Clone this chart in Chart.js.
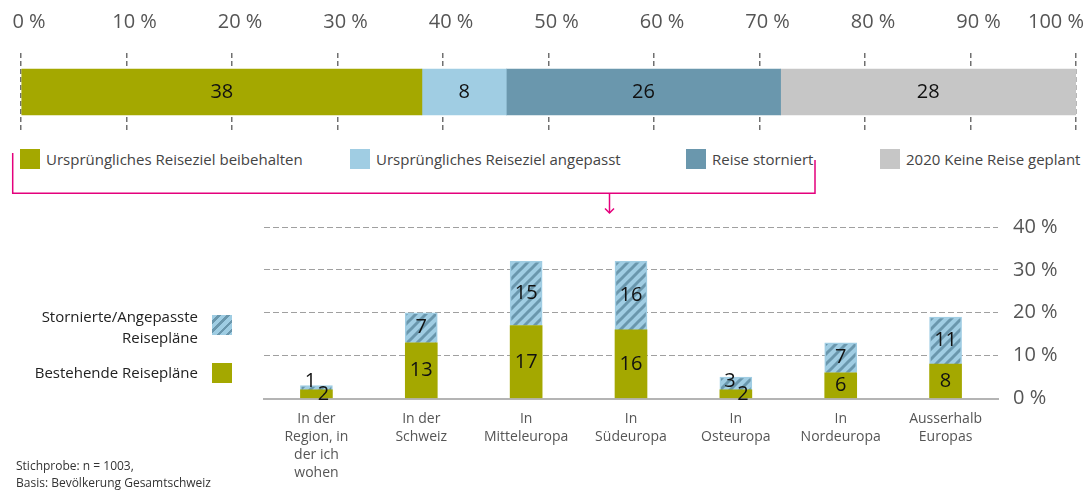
<!DOCTYPE html>
<html>
<head>
<meta charset="utf-8">
<script src="https://cdn.jsdelivr.net/npm/chart.js@4.4.0/dist/chart.umd.min.js"></script>
<style>
  body { margin: 0; width: 1085px; height: 491px; overflow: hidden; background: #fff; position: relative; font-family: 'Open Sans', sans-serif; }
  canvas { position: absolute; left: 0; }
  #topChart { top: 0; }
  #bottomChart { top: 200px; }
  .lg { position: absolute; font-size: 15px; line-height: 20px; color: #444; white-space: nowrap; }
  .sw { position: absolute; width: 20px; height: 20px; }
  .lg2 { position: absolute; font-size: 15px; line-height: 21px; color: #222; text-align: right; white-space: nowrap; }
  .note { position: absolute; left: 16px; top: 457px; font-size: 12px; line-height: 17px; color: #333; }
  svg { position: absolute; left: 0; top: 0; }
</style>
</head>
<body>
<canvas id="topChart" width="1085" height="140"></canvas>
<canvas id="bottomChart" width="1085" height="291"></canvas>

<div id="topLegend"></div>

<svg width="1085" height="230">
  <polyline points="12.7,153 12.7,193.3 815,193.3 815,160" fill="none" stroke="#e4007c" stroke-width="1.5"/>
  <line x1="609.5" y1="193.3" x2="609.5" y2="213" stroke="#e4007c" stroke-width="1.5"/>
  <polyline points="605,208.5 609.5,213 614,208.5" fill="none" stroke="#e4007c" stroke-width="1.5"/>
</svg>

<div class="lg2" style="right:887px; top:306px;">Stornierte/Angepasste<br>Reisepläne</div>
<div class="sw" style="left:212px; top:315px; background: repeating-linear-gradient(135deg, #9fcde3 0 4px, #6a97ad 4px 6.5px);"></div>
<div class="lg2" style="right:887px; top:362px;">Bestehende Reisepläne</div>
<div class="sw" style="left:212px; top:363px; background:#a4a800;"></div>

<div class="note">Stichprobe: n = 1003,<br>Basis: Bevölkerung Gesamtschweiz</div>

<script>
// oberer Balken
const topCategory = ['Reisen 2020'];
const topLabels = ['Ursprüngliches Reiseziel beibehalten', 'Ursprüngliches Reiseziel angepasst', 'Reise storniert', '2020 Keine Reise geplant'];
const topValues = [38, 8, 26, 28];
const topColors = ['#a4a800', '#a0cde3', '#6a97ad', '#c6c6c6'];
const topTicks = [0, 10, 20, 30, 40, 50, 60, 70, 80, 90, 100];

// unteres Diagramm
const regions = [
    ['In der', 'Region, in', 'der ich', 'wohen'],
    ['In der', 'Schweiz'],
    ['In', 'Mitteleuropa'],
    ['In', 'Südeuropa'],
    ['In', 'Osteuropa'],
    ['In', 'Nordeuropa'],
    ['Ausserhalb', 'Europas']
];
const bestehend = [2, 13, 17, 16, 2, 6, 8];
const storniert = [1, 7, 15, 16, 3, 7, 11];
const bottomTicks = [0, 10, 20, 30, 40];

const FONT = "'Open Sans', sans-serif";

// Legende oben
const legendX = [20, 350, 686, 880];
const legendBox = document.getElementById('topLegend');
topLabels.forEach((label, i) => {
    const sw = document.createElement('div');
    sw.className = 'sw';
    sw.style.left = legendX[i] + 'px';
    sw.style.top = '149px';
    sw.style.background = topColors[i];
    legendBox.appendChild(sw);
    const t = document.createElement('div');
    t.className = 'lg';
    t.style.left = (legendX[i] + 26) + 'px';
    t.style.top = '149px';
    t.textContent = label;
    legendBox.appendChild(t);
});

function makeHatch() {
    const c = document.createElement('canvas');
    c.width = 10; c.height = 10;
    const g = c.getContext('2d');
    g.fillStyle = '#a0cde3';
    g.fillRect(0, 0, 10, 10);
    g.strokeStyle = '#6a97ad';
    g.lineWidth = 3;
    [[-5, 5, 5, -5], [0, 10, 10, 0], [5, 15, 15, 5]].forEach(l => {
        g.beginPath(); g.moveTo(l[0], l[1]); g.lineTo(l[2], l[3]); g.stroke();
    });
    return g.createPattern(c, 'repeat');
}

// Werte in die Balken schreiben
const valueLabels = {
    id: 'valueLabels',
    afterDatasetsDraw(chart) {
        const ctx = chart.ctx;
        ctx.save();
        ctx.font = '20px ' + FONT;
        ctx.fillStyle = '#111';
        ctx.textAlign = 'center';
        ctx.textBaseline = 'middle';
        const metas = chart.data.datasets.map((ds, di) => chart.getDatasetMeta(di));
        chart.data.datasets.forEach((ds, di) => {
            metas[di].data.forEach((bar, i) => {
                const p = bar.getProps(['x', 'y', 'base', 'horizontal']);
                let x, y;
                if (p.horizontal) {
                    x = (p.x + p.base) / 2; y = p.y;
                } else {
                    x = p.x; y = (p.y + p.base) / 2;
                    // kleine Segmente: Beschriftung seitlich versetzen
                    const small = metas.some(m => {
                        const b = m.data[i].getProps(['y', 'base']);
                        return Math.abs(b.base - b.y) < 15;
                    });
                    if (small) {
                        const g = metas[0].data[i].getProps(['y', 'base']);
                        const gy = (g.y + g.base) / 2;
                        if (di === 0) { x += 7; y = gy; }
                        else { x -= 6; y = Math.min(y, gy - 13); }
                    }
                }
                ctx.fillText(String(ds.data[i]), x, y);
            });
        });
        ctx.restore();
    }
};

// Achsenbeschriftung oben (Zahl über dem Strich, letzte bündig)
const topTickLabels = {
    id: 'topTickLabels',
    afterDraw(chart) {
        const ctx = chart.ctx;
        const scale = chart.scales.x;
        ctx.save();
        ctx.font = '20px ' + FONT;
        ctx.fillStyle = '#555';
        ctx.textBaseline = 'middle';
        topTicks.forEach(v => {
            const px = scale.getPixelForValue(v);
            const txt = v + ' %';
            const w = ctx.measureText(txt).width;
            let left = px + 8 - w / 2;
            if (left + w > chart.width - 2) left = px + 8 - w;
            ctx.textAlign = 'left';
            ctx.fillText(txt, left, 22);
        });
        ctx.restore();
    }
};

new Chart(document.getElementById('topChart'), {
    type: 'bar',
    data: {
        labels: topCategory,
        datasets: topLabels.map((label, i) => ({
            label: label,
            data: [topValues[i]],
            backgroundColor: topColors[i],
            barThickness: 46
        }))
    },
    options: {
        indexAxis: 'y',
        responsive: false,
        animation: false,
        layout: { padding: { left: 21, right: 9, top: 53, bottom: 9 } },
        scales: {
            x: {
                position: 'top',
                stacked: true,
                min: 0,
                max: 100,
                ticks: { display: false, stepSize: 10 },
                grid: { color: '#707070', lineWidth: 1.5, drawTicks: false },
                border: { display: false, dash: [5, 3] },
                afterFit: s => { s.height = 0; }
            },
            y: { stacked: true, display: false }
        },
        plugins: { legend: { display: false }, tooltip: { enabled: false } }
    },
    plugins: [valueLabels, topTickLabels]
});

const bottomCanvas = document.getElementById('bottomChart');
new Chart(bottomCanvas, {
    type: 'bar',
    data: {
        labels: regions,
        datasets: [{
            label: 'Bestehende Reisepläne',
            data: bestehend,
            backgroundColor: '#a4a800',
            barThickness: 32
        }, {
            label: 'Stornierte/Angepasste Reisepläne',
            data: storniert,
            backgroundColor: makeHatch(),
            borderColor: '#a0cde3',
            borderWidth: 1.5,
            borderSkipped: 'bottom',
            barThickness: 32
        }]
    },
    options: {
        responsive: false,
        animation: false,
        layout: { padding: { left: 264, right: 0, top: 22.7, bottom: 0 } },
        scales: {
            x: {
                stacked: true,
                grid: { display: false, drawTicks: false },
                border: { display: true, color: '#b4b4b4', width: 2 },
                ticks: {
                    color: '#555',
                    font: { family: FONT, size: 14, lineHeight: 1.3 },
                    padding: 11,
                    maxRotation: 0,
                    autoSkip: false
                },
                afterFit: s => { s.height = 92.5; }
            },
            y: {
                position: 'right',
                stacked: true,
                min: bottomTicks[0],
                max: bottomTicks[bottomTicks.length - 1],
                afterBuildTicks: s => { s.ticks = bottomTicks.map(v => ({ value: v })); },
                ticks: {
                    color: '#555',
                    font: { family: FONT, size: 20 },
                    padding: 15,
                    callback: v => v + ' %'
                },
                grid: { color: '#a0a0a0', lineWidth: 1, drawTicks: false },
                border: { display: false, dash: [6, 3] },
                afterFit: s => { s.width = 87; }
            }
        },
        plugins: { legend: { display: false }, tooltip: { enabled: false } }
    },
    plugins: [valueLabels]
});
</script>
</body>
</html>
